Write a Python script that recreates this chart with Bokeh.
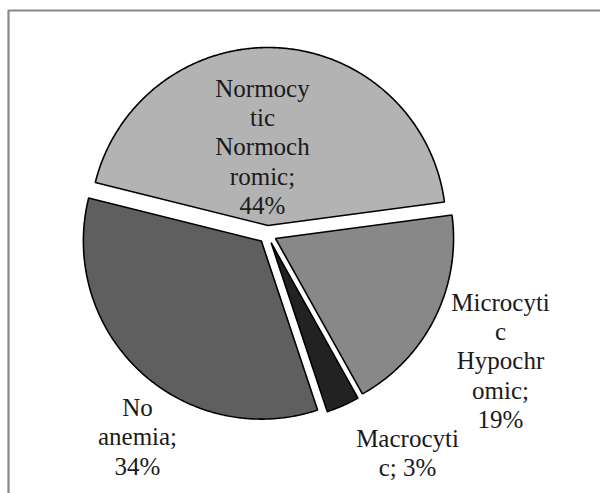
import math
from bokeh.plotting import figure
from bokeh.models import Range1d, ColumnDataSource
from bokeh.core.properties import value
from bokeh.embed import file_html
from bokeh.resources import INLINE

# ---- data ----
categories = ["Normocytic Normochromic", "Microcytic Hypochromic", "Macrocytic", "No anemia"]
percent = [44, 19, 3, 34]
colors = ["#b3b3b3", "#888888", "#222222", "#5f5f5f"]
label_lines = [
    ["Normocy", "tic", "Normoch", "romic;", "44%"],
    ["Microcyti", "c", "Hypochr", "omic;", "19%"],
    ["Macrocyti", "c; 3%"],
    ["No", "anemia;", "34%"],
]

# ---- layout (pixel space, y grows downward) ----
W, H = 600, 493
cx, cy, rx, ry = 267, 234, 178, 178
explode = 9
start_deg = 284
label_pos = [(262, 87.5), (500, 301.5), (407, 438), (137, 407)]
line_h = 29.4

p = figure(width=W, height=H, output_backend="svg", toolbar_location=None,
           x_range=Range1d(0, W), y_range=Range1d(H, 0), min_border=0)
p.axis.visible = False
p.grid.visible = False
p.outline_line_color = None
p.background_fill_color = "white"
p.border_fill_color = "white"

# chart-area frame (left and top edges visible)
p.line([8, 8, W + 5], [H + 5, 10, 10], line_color="#878787", line_width=2.2)

total = sum(percent)
xs, ys = [], []
a0 = start_deg
for v in percent:
    span = 360.0 * v / total
    a1 = a0 + span
    mid = math.radians((a0 + a1) / 2)
    ax = cx + explode * math.sin(mid)
    ay = cy - explode * math.cos(mid)
    n = max(4, int(span * 2))
    px = [ax]
    py = [ay]
    for i in range(n + 1):
        t = math.radians(a0 + span * i / n)
        px.append(ax + rx * math.sin(t))
        py.append(ay - ry * math.cos(t))
    xs.append(px)
    ys.append(py)
    a0 = a1

src = ColumnDataSource(dict(xs=xs, ys=ys, color=colors, cat=categories))
p.patches("xs", "ys", source=src, fill_color="color", line_color="black", line_width=1.6)

tx, ty, tt = [], [], []
for lines, (lx, ly) in zip(label_lines, label_pos):
    for i, s in enumerate(lines):
        tx.append(lx)
        ty.append(ly + i * line_h)
        tt.append(s)
p.text(tx, ty, tt, text_align="center", text_baseline="alphabetic",
       text_font=value("Liberation Serif"), text_font_size="25px", text_color="#1a1a1a")

open("out.html", "w").write(file_html(p, INLINE))
